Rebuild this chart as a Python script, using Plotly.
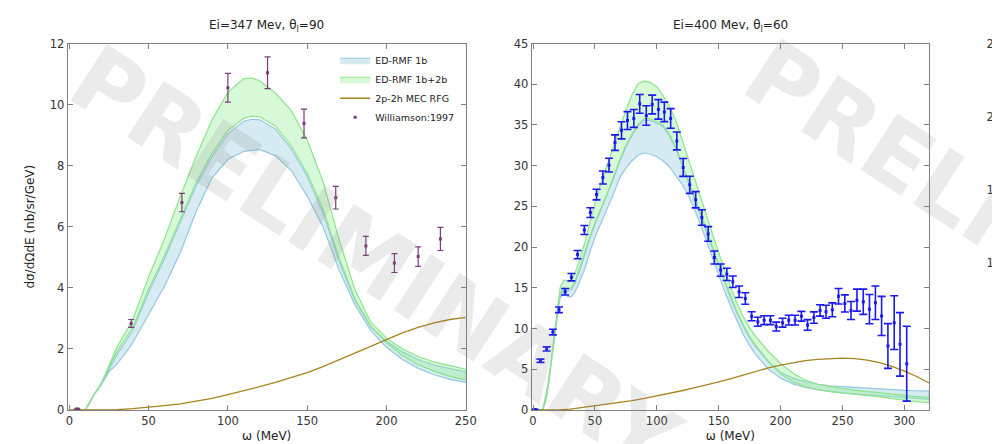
import plotly.graph_objects as go

# ---------------- Panel 1: Ei=347 MeV, theta=90 ----------------
w347 = [0, 5, 10, 12, 15, 20, 25, 30, 35, 40, 50, 60, 70, 80, 90, 100, 110, 115, 120,
        130, 140, 150, 160, 170, 180, 190, 200, 210, 220, 230, 240, 250]
g_hi_347 = [0, 0, 0, 0.15, 0.45, 0.85, 1.45, 2.05, 2.5, 2.95, 4.35, 5.6, 7.0, 8.3, 9.5, 10.4, 10.85,
            10.87, 10.78, 10.38, 9.8, 8.84, 7.48, 5.6, 3.95, 2.88, 2.35, 2.0, 1.75, 1.57, 1.45, 1.33]
g_lo_347 = [0, 0, 0, 0.15, 0.45, 0.85, 1.4, 1.9, 2.3, 2.7, 3.95, 5.05, 6.25, 7.45, 8.4, 9.15, 9.55,
            9.62, 9.6, 9.3, 8.65, 7.75, 6.57, 5.0, 3.65, 2.75, 2.2, 1.78, 1.48, 1.27, 1.1, 0.98]
b_hi_347 = [0, 0, 0, 0.15, 0.45, 0.85, 1.35, 1.8, 2.2, 2.6, 3.85, 4.95, 6.15, 7.35, 8.3, 9.05, 9.45,
            9.52, 9.5, 9.2, 8.55, 7.65, 6.45, 4.9, 3.6, 2.72, 2.25, 1.9, 1.65, 1.47, 1.35, 1.25]
b_lo_347 = [0, 0, 0, 0.15, 0.45, 0.8, 1.25, 1.5, 1.83, 2.2, 3.1, 4.05, 5.15, 6.5, 7.6, 8.2, 8.47,
            8.5, 8.53, 8.32, 7.84, 7.0, 6.0, 4.6, 3.45, 2.6, 2.05, 1.65, 1.36, 1.15, 1.0, 0.9]
mec_w347 = [0, 10, 20, 30, 40, 50, 60, 70, 80, 90, 100, 110, 120, 130, 140, 150, 160, 170, 180,
            190, 200, 210, 220, 230, 240, 250]
mec_347 = [0, 0, 0, 0.01, 0.04, 0.08, 0.14, 0.2, 0.28, 0.38, 0.5, 0.62, 0.76, 0.9, 1.05, 1.22, 1.42,
           1.64, 1.87, 2.1, 2.32, 2.52, 2.7, 2.85, 2.96, 3.03]
exp_w347 = [5, 39, 71, 100, 125, 148, 168, 187, 205, 220, 234]
exp_347 = [0.03, 2.83, 6.79, 10.55, 11.04, 9.38, 6.95, 5.37, 4.81, 5.02, 5.60]
err_347 = [0.02, 0.13, 0.30, 0.47, 0.52, 0.47, 0.37, 0.31, 0.31, 0.32, 0.38]

# ---------------- Panel 2: Ei=400 MeV, theta=60 ----------------
w400 = [0, 6, 8, 10, 12, 14, 16, 18, 20, 22, 25, 28, 31, 34, 38, 42, 46, 50, 55, 60, 65, 70, 75,
        80, 85, 90, 95, 100, 105, 110, 115, 120, 125, 130, 135, 140, 145, 150, 155, 160, 165, 170,
        175, 180, 190, 200, 210, 220, 230, 240, 250, 260, 270, 280, 290, 300, 310, 320]
g_hi_400 = [0, 0, 0.1, 1.5, 3.1, 5.4, 7.85, 10.6, 13.3, 15.1, 15.95, 15.8, 15.9, 16.8, 18.7, 20.6,
            23.0, 25.4, 27.9, 30.1, 32.4, 34.6, 36.8, 38.7, 40.1, 40.4, 40.2, 39.7, 38.6, 37.3, 35.7,
            33.4, 31.0, 28.5, 26.2, 23.9, 21.6, 19.3, 17.0, 14.9, 13.0, 11.4, 10.1, 9.0, 7.2, 5.7,
            4.5, 3.65, 3.15, 2.85, 2.62, 2.42, 2.25, 2.1, 1.92, 1.77, 1.62, 1.5]
g_lo_400 = [0, 0, 0.05, 1.2, 2.8, 5.0, 7.4, 10.1, 12.6, 14.3, 15.0, 14.8, 15.0, 15.8, 17.4, 19.4,
            21.3, 23.0, 24.8, 26.6, 28.6, 30.7, 32.5, 33.9, 35.1, 35.8, 35.75, 35.4, 35.0, 33.9, 32.4,
            30.5, 28.4, 26.3, 24.3, 22.3, 20.1, 17.9, 15.8, 13.8, 12.0, 10.4, 9.0, 7.9, 6.0, 4.4,
            3.45, 2.85, 2.5, 2.25, 2.05, 1.9, 1.75, 1.6, 1.38, 1.18, 1.02, 0.9]
b_hi_400 = [0, 0, 0.05, 1.15, 2.7, 4.9, 7.3, 9.9, 12.4, 14.1, 14.8, 14.6, 14.8, 15.6, 17.2, 19.2,
            21.1, 22.8, 24.6, 26.4, 28.4, 30.5, 32.3, 33.7, 34.9, 35.6, 35.55, 35.2, 34.8, 33.7, 32.2,
            30.3, 28.2, 26.1, 24.1, 22.1, 19.9, 17.7, 15.6, 13.6, 11.8, 10.2, 8.85, 7.75, 5.9, 4.6,
            3.9, 3.45, 3.15, 2.95, 2.85, 2.75, 2.65, 2.55, 2.5, 2.4, 2.35, 2.3]
b_lo_400 = [0, 0, 0.05, 1.0, 2.5, 4.6, 7.0, 9.6, 12.0, 13.8, 14.3, 13.9, 13.9, 14.5, 15.9, 17.4,
            19.4, 21.2, 23.0, 24.7, 26.5, 28.5, 29.7, 30.6, 31.3, 31.55, 31.4, 31.1, 30.6, 29.9, 28.9,
            27.8, 26.5, 24.8, 22.9, 20.9, 18.8, 16.6, 14.5, 12.6, 10.8, 9.2, 7.9, 6.8, 5.0, 3.9,
            3.2, 2.75, 2.45, 2.25, 2.1, 1.95, 1.85, 1.75, 1.6, 1.5, 1.4, 1.3]
mec_w400 = [0, 10, 20, 30, 40, 50, 60, 70, 80, 90, 100, 110, 120, 130, 140, 150, 160, 170, 180,
            190, 200, 210, 220, 230, 240, 250, 260, 270, 280, 290, 300, 310, 320]
mec_400 = [0, 0, 0, 0.1, 0.3, 0.55, 0.75, 0.95, 1.15, 1.4, 1.7, 2.0, 2.35, 2.7, 3.05, 3.45, 3.85,
           4.3, 4.75, 5.15, 5.5, 5.8, 6.05, 6.2, 6.3, 6.35, 6.3, 6.1, 5.8, 5.35, 4.75, 4.1, 3.3]
exp_w400 = [1, 6, 11, 16, 21, 26, 31, 36, 41.5, 46.3, 51.3, 56.4, 61.4, 66.2, 71.5, 76.3, 81.4,
            86.2, 91.5, 96.3, 101.3, 106.1, 111.2, 116.2, 121.3, 126.6, 131.4, 136.4, 141.5, 146.5,
            151.6, 156.6, 161.4, 166.5, 171.5, 176.6, 181.6, 186.7, 191.8, 196.5, 201.6, 206.6,
            211.7, 216.8, 221.8, 226.9, 231.9, 236.7, 241.8, 246.8, 251.9, 256.9, 261.7, 266.8,
            271.8, 276.6, 281.6, 286.7, 291.8, 296.5, 301.9]
exp_400 = [0.05, 6.03, 7.49, 9.56, 12.29, 14.51, 16.3, 19.07, 22.09, 24.23, 26.45, 28.55, 30.06,
           32.83, 34.34, 35.53, 35.8, 37.59, 36.16, 37.51, 36.91, 36.6, 35.8, 33.03, 29.78, 27.64,
           25.81, 23.63, 21.61, 18.72, 17.17, 16.65, 15.74, 14.51, 13.68, 11.5, 10.82, 11.02, 11.02,
           10.23, 10.71, 11.02, 11.02, 11.5, 10.43, 11.34, 12.21, 12.05, 12.29, 13.96, 13.08, 12.21,
           13.48, 13.28, 12.37, 13.16, 11.54, 7.85, 10.71, 8.05, 5.67]
err_400 = [0.05, 0.2, 0.25, 0.35, 0.35, 0.4, 0.45, 0.5, 0.55, 0.6, 0.65, 0.8, 0.85, 0.95, 1.05,
           1.1, 1.1, 1.15, 1.2, 1.15, 1.2, 1.2, 1.2, 1.1, 1.1, 1.05, 1.0, 0.95, 0.9, 0.8, 0.75, 0.75,
           0.7, 0.7, 0.7, 0.55, 0.55, 0.55, 0.55, 0.55, 0.55, 0.6, 0.6, 0.6, 0.65, 0.7, 0.7, 0.8,
           0.85, 0.95, 1.05, 1.1, 1.35, 1.55, 1.8, 2.05, 2.4, 2.75, 3.3, 3.9, 4.6]

titles = ["Ei=347 Mev, θ<sub>l</sub>=90", "Ei=400 Mev, θ<sub>l</sub>=60"]
names = ["ED-RMF 1b", "ED-RMF 1b+2b", "2p-2h MEC RFG", "Williamson:1997"]

# ---------------- styling ----------------
W, H = 1420, 444
VISIBLE_W = 992
FONT = "DejaVu Sans"
BLUE_FILL, BLUE_LINE = "rgba(173,216,230,0.5)", "rgba(150,200,222,1)"
GREEN_FILL, GREEN_LINE = "rgba(144,238,144,0.35)", "rgba(140,228,140,1)"
MEC_COLOR = "#a8841c"

y_dom = [1 - 416 / H, 1 - 37.7 / H]
x_doms = [[64.3 / W, 466.7 / W], [533.3 / W, 935.0 / W], [1011.0 / W, 1413.0 / W]]

fig = go.Figure()

def band(x, lo, hi, name, fill, line, xa, ya, show):
    fig.add_trace(go.Scatter(
        x=list(x) + list(x)[::-1], y=list(hi) + list(lo)[::-1],
        fill="toself", fillcolor=fill, mode="lines",
        line=dict(color=line, width=1.2), name=name,
        xaxis=xa, yaxis=ya, showlegend=show, hoverinfo="skip"))

panels = [
    (w347, b_lo_347, b_hi_347, g_lo_347, g_hi_347, mec_w347, mec_347, exp_w347, exp_347, err_347,
     "x", "y", True, "#7a3a7a", 1.2, 3),
    (w400, b_lo_400, b_hi_400, g_lo_400, g_hi_400, mec_w400, mec_400, exp_w400, exp_400, err_400,
     "x2", "y2", False, "#1a1aee", 1.6, 4),
]
for (w, blo, bhi, glo, ghi, mw, mv, ew, ev, ee, xa, ya, show, dcol, thick, cap) in panels:
    band(w, blo, bhi, names[0], BLUE_FILL, BLUE_LINE, xa, ya, show)
    band(w, glo, ghi, names[1], GREEN_FILL, GREEN_LINE, xa, ya, show)
    fig.add_trace(go.Scatter(x=mw, y=mv, mode="lines", line=dict(color=MEC_COLOR, width=1.3),
                             name=names[2], xaxis=xa, yaxis=ya, showlegend=show))
    fig.add_trace(go.Scatter(x=ew, y=ev, mode="markers",
                             marker=dict(symbol="square", size=3, color=dcol),
                             error_y=dict(type="data", array=ee, color=dcol, thickness=thick, width=cap),
                             name=names[3], xaxis=xa, yaxis=ya, showlegend=show))

# third panel, cut off at the right edge of the image: only its axes are defined
fig.add_trace(go.Scatter(x=[], y=[], xaxis="x3", yaxis="y3", showlegend=False))

axis_common = dict(showline=True, linecolor="#808080", linewidth=1, mirror="ticks",
                   ticks="inside", ticklen=5, tickcolor="#808080", showgrid=False,
                   zeroline=False, tickfont=dict(family=FONT, size=11.5, color="#333333"))
title_font = dict(family=FONT, size=12, color="#222222")

fig.update_layout(
    width=W, height=H, autosize=False,
    margin=dict(l=0, r=0, t=0, b=0),
    paper_bgcolor="white", plot_bgcolor="white",
    xaxis=dict(domain=x_doms[0], range=[-1.06, 250], tickvals=[0, 50, 100, 150, 200, 250],
               anchor="y", title=dict(text="ω (MeV)", font=title_font, standoff=4), **axis_common),
    yaxis=dict(domain=y_dom, range=[0, 12], tickvals=[0, 2, 4, 6, 8, 10, 12], anchor="x",
               title=dict(text="dσ/dΩdE (nb/sr/GeV)", font=title_font, standoff=12), **axis_common),
    xaxis2=dict(domain=x_doms[1], range=[-1.1, 320], tickvals=[0, 50, 100, 150, 200, 250, 300],
                anchor="y2", title=dict(text="ω (MeV)", font=title_font, standoff=4), **axis_common),
    yaxis2=dict(domain=y_dom, range=[0, 45], tickvals=list(range(0, 46, 5)), anchor="x2",
                **axis_common),
    xaxis3=dict(domain=x_doms[2], range=[0, 250], tickvals=[0, 50, 100, 150, 200, 250],
                anchor="y3", **axis_common),
    yaxis3=dict(domain=y_dom, range=[0, 25], tickvals=[0, 5, 10, 15, 20, 25], anchor="x3",
                **axis_common),
    legend=dict(x=460 / W, xanchor="right", y=1 - 40 / H, yanchor="top",
                bgcolor="rgba(0,0,0,0)", font=dict(family=FONT, size=9.5, color="#222222"),
                tracegroupgap=0, itemwidth=30),
    showlegend=True,
)

# panel titles
for t, (a, b) in zip(titles, x_doms[:2]):
    fig.add_annotation(text=t, xref="paper", yref="paper", x=(a + b) / 2, y=1 - 20 / H,
                       xanchor="center", yanchor="middle",
                       showarrow=False, font=dict(family=FONT, size=12, color="#222222"))

# PRELIMINARY watermarks
for cx, cy in [(375, 262), (1056, 256)]:
    fig.add_annotation(text="<b>PRELIMINARY</b>", xref="paper", yref="paper",
                       x=cx / W, y=1 - cy / H, xanchor="center", yanchor="middle",
                       showarrow=False, textangle=33,
                       font=dict(family=FONT, size=92, color="rgba(128,128,128,0.16)"))

# the source image is cropped at x=992: clip the figure there as well
post = ("document.body.style.margin='0';"
        "document.body.style.overflow='hidden';"
        "document.documentElement.style.overflow='hidden';"
        "var gd=document.getElementById('{plot_id}');"
        "gd.style.clipPath='inset(0px " + str(W - VISIBLE_W) + "px 0px 0px)';")

fig.write_html("out.html", post_script=post)
